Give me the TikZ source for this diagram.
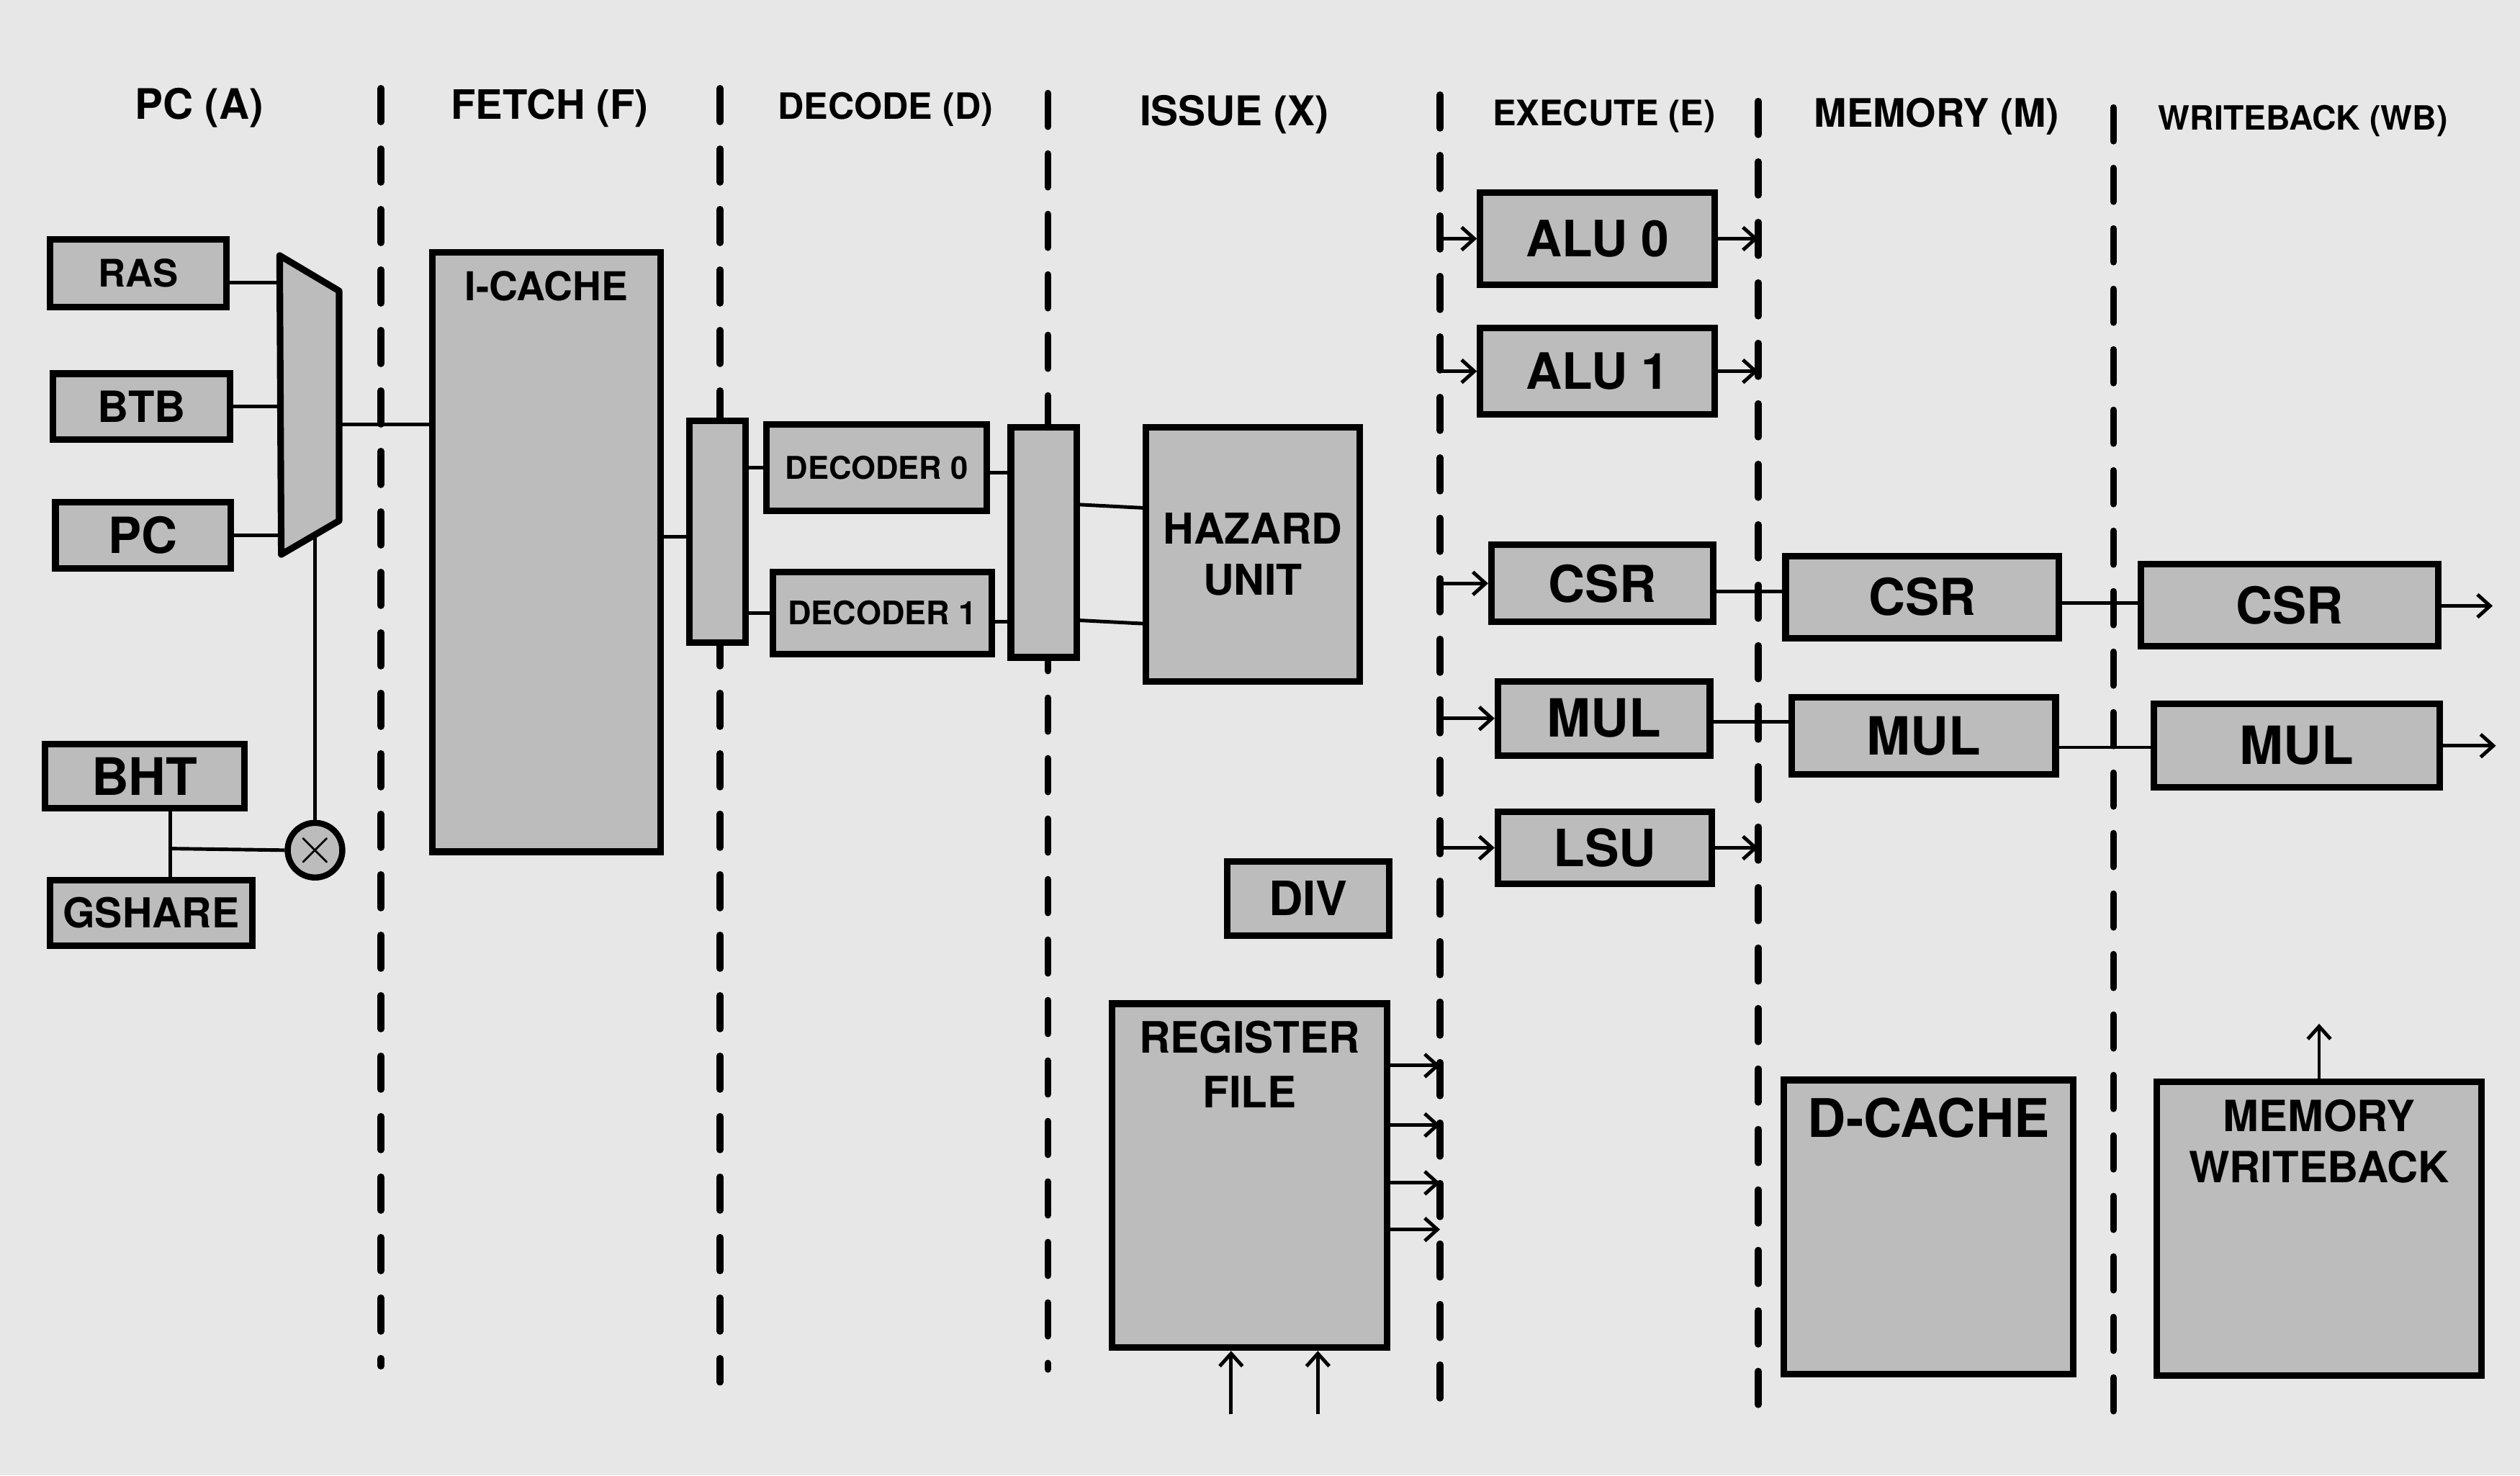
\documentclass[tikz,border=0pt]{standalone}
\usepackage{fontspec}
\setmainfont{TeX Gyre Heros}
\usetikzlibrary{arrows.meta}

\definecolor{paper}{gray}{0.906}
\definecolor{boxgray}{gray}{0.737}
\newlength{\pxu}
\setlength{\pxu}{0.02232cm}

\tikzstyle{block} = [draw, fill=boxgray, line width=2.6pt, inner sep=0pt]
\tikzstyle{wire} = [line width=1.4pt]
\tikzstyle{flow} = [line width=1.4pt, -{Straight Barb[length=5pt,width=9pt]}]
\tikzstyle{boundary} = [line width=2.7pt, line cap=round, dash pattern=on 13.2pt off 10.7pt]
\tikzset{
  wh/.style 2 args={minimum width=#1*\pxu, minimum height=#2*\pxu},
  txt/.style={font=\bfseries\fontsize{#1}{#1}\selectfont},
  stage/.style={anchor=base, txt=#1}
}

\begin{document}
\begin{tikzpicture}[x=0.02232cm, y=-0.02232cm]
\useasboundingbox (0,0) rectangle (1568,918);
\fill[paper] (0,0) rectangle (1568,918);

\foreach \sx/\ya/\yb in {237/55/850, 448/55/860, 652/58/852, 896/59/874, 1094/63/880, 1315/67/882}
    \draw[boundary] (\sx,\ya) -- (\sx,\yb);
\coordinate (sepE) at (896,0);
\coordinate (sepM) at (1094,0);
\coordinate (sepW) at (1315,0);

\node[stage=16.6] (hPC) at (124,74) {PC (A)};
\node[stage=16] (hF) at (342,74) {FETCH (F)};
\node[stage=14.3] (hD) at (551,74) {DECODE (D)};
\node[stage=16.2] (hX) at (768,78) {ISSUE (X)};
\node[stage=13.9] (hE) at (998,78) {EXECUTE (E)};
\node[stage=15.5] (hM) at (1205,79) {MEMORY (M)};
\node[stage=13.2] (hWB) at (1433,81) {WRITEBACK (WB)};

\node[block, wh={110}{42}, txt=15] (ras) at (86,170) {RAS};
\node[block, wh={110}{41}, txt=17] (btb) at (88,253) {BTB};
\node[block, wh={109}{41}, txt=19.7] (pc) at (89,333) {PC};
\node[block, wh={124}{40}, txt=20.4] (bht) at (90,483) {BHT};
\node[block, wh={126}{41}, txt=16.3] (gshare) at (94,568) {GSHARE};

\coordinate (muxTL) at (174,159);
\coordinate (muxTR) at (211,181);
\coordinate (muxBR) at (211,324);
\coordinate (muxBL) at (175,345);
\coordinate (muxout) at (211,264);
\coordinate (muxsel) at (196,333);
\filldraw[fill=boxgray, line width=2.6pt, line join=round] (muxTL) -- (muxTR) -- (muxBR) -- (muxBL) -- cycle;

\node[draw, circle, fill=boxgray, line width=2.4pt, minimum size=34*\pxu, inner sep=0pt,
      font=\fontsize{20}{20}\selectfont] (hashmix) at (196,529) {$\times$};
\coordinate (tap) at (106,528);

\node[block, wh={142}{373},
      label={[anchor=north, inner sep=0pt, yshift=-0.3cm, txt=15.7]north:I-CACHE}] (icache) at (340,343.5) {};
\node[block, wh={35}{138}] (regFD) at (446.5,331) {};
\node[block, wh={137}{54}, txt=12.4] (dec0) at (545.5,291) {DECODER 0};
\node[block, wh={136}{51}, txt=12.8] (dec1) at (549,381.5) {DECODER 1};
\node[block, wh={41}{143}] (regDX) at (649.5,337.5) {};

\node[block, wh={133}{158}, align=center,
      font=\bfseries\fontsize{16.8}{20.3}\selectfont] (hazard) at (779.5,345) {HAZARD\\UNIT};
\node[block, wh={101}{46}, txt=18.7] (div) at (814,559) {DIV};
\node[block, wh={171}{214},
      label={[anchor=north, inner sep=0pt, yshift=-0.28cm, align=center,
              font=\bfseries\fontsize{17.1}{21.5}\selectfont]north:REGISTER\\FILE}] (regfile) at (777.5,731.5) {};

\node[block, wh={146}{57}, txt=19.8] (alu0) at (994,148.5) {ALU 0};
\node[block, wh={146}{54}, txt=19.8] (alu1) at (994,231) {ALU 1};
\node[block, wh={138}{48}, txt=20.1] (csrE) at (997,363) {CSR};
\node[block, wh={132}{46}, txt=20.8] (mulE) at (998,447) {MUL};
\node[block, wh={133}{45}, txt=20.3] (lsu) at (998.5,527.5) {LSU};

\node[block, wh={170}{51}, txt=20.1] (csrM) at (1196,371.5) {CSR};
\node[block, wh={164}{48}, txt=20.8] (mulM) at (1197,458) {MUL};
\node[block, wh={180}{183},
      label={[anchor=north, inner sep=0pt, yshift=-0.29cm, txt=21]north:D-CACHE}] (dcache) at (1200,763.5) {};

\node[block, wh={185}{51}, txt=20.1] (csrW) at (1424.5,376.5) {CSR};
\node[block, wh={178}{52}, txt=20.8] (mulW) at (1429,464) {MUL};
\node[block, wh={202}{183},
      label={[anchor=north, inner sep=0pt, yshift=-0.29cm, align=center,
              font=\bfseries\fontsize{17}{20.3}\selectfont]north:MEMORY\\WRITEBACK}] (memwb) at (1443,764.5) {};

\coordinate (csrout) at (1551,377);
\coordinate (mulout) at (1553,464);
\coordinate (wbup) at (1443,637);

\draw[wire] (ras.east |- 0,176) -- (muxTL |- 0,176);
\draw[wire] (btb.east) -- (btb.east -| muxTL);
\draw[wire] (pc.east) -- (pc.east -| muxBL);
\draw[wire] (muxout) -- (icache.west |- muxout);
\draw[wire] (muxsel) -- (hashmix.north);
\draw[wire] (bht.south -| tap) -- (gshare.north -| tap);
\draw[wire] (tap) -- (hashmix.west);

\draw[wire] (icache.east |- 0,334) -- (regFD.west |- 0,334);
\draw[wire] (regFD.east |- dec0.west) -- (dec0.west);
\draw[wire] (regFD.east |- dec1.west) -- (dec1.west);
\draw[wire] (dec0.east |- 0,294) -- (regDX.west |- 0,294);
\draw[wire] (dec1.east |- 0,387) -- (regDX.west |- 0,387);
\draw[wire] (regDX.east |- 0,314) -- (hazard.west |- 0,316);
\draw[wire] (regDX.east |- 0,386) -- (hazard.west |- 0,388);

\foreach \ry in {663,700,736,765}
    \draw[flow] (regfile.east |- 0,\ry) -- (sepE |- 0,\ry);
\foreach \rx [count=\i] in {766,820} {
    \coordinate (rfin\i) at (\rx,880);
    \draw[flow] (rfin\i) -- (rfin\i |- regfile.south);
}

\foreach \fu in {alu0,alu1,csrE,mulE,lsu}
    \draw[flow] (sepE |- \fu.west) -- (\fu.west);
\foreach \fu in {alu0,alu1,lsu}
    \draw[flow] (\fu.east) -- (\fu.east -| sepM);

\draw[wire] (csrE.east |- 0,368) -- (csrM.west |- 0,368);
\draw[wire] (mulE.east |- 0,449) -- (mulM.west |- 0,449);
\draw[wire] (csrM.east |- 0,375) -- (csrW.west |- 0,375);
\draw[wire] (mulM.east |- 0,465) -- (mulW.west |- 0,465);
\draw[flow] (csrW.east |- csrout) -- (csrout);
\draw[flow] (mulW.east |- mulout) -- (mulout);
\draw[flow] (memwb.north) -- (wbup);
\end{tikzpicture}
\end{document}
